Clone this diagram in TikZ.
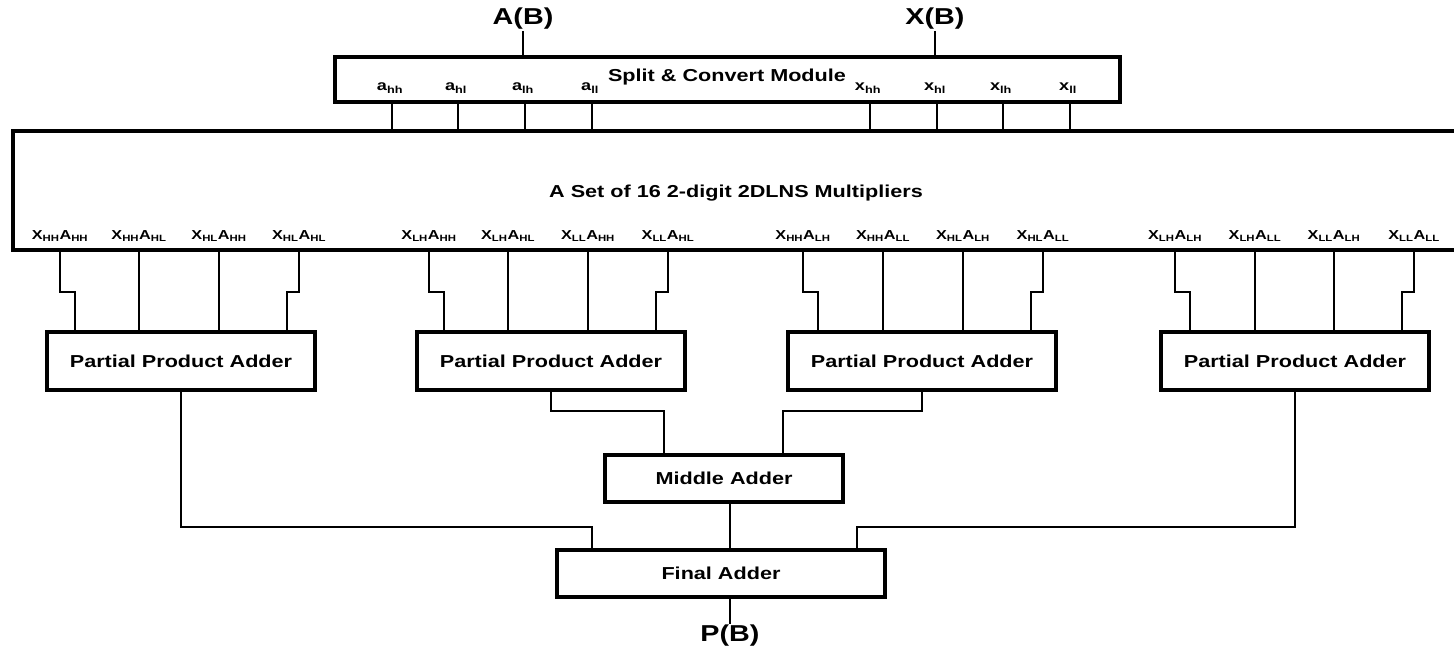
\documentclass[tikz,border=0pt]{standalone}
\usepackage{fontspec}
\setmainfont[FakeStretch=1.25]{Liberation Sans}
\begin{document}
\begin{tikzpicture}[x=1pt,y=-1pt,
  blk/.style={draw, line width=4.5pt, inner sep=0pt, font=\bfseries\fontsize{17.3}{20}\selectfont},
  wire/.style={line width=2.2pt},
  io/.style={font=\bfseries\fontsize{23}{26}\selectfont, inner sep=1pt},
  slab/.style={font=\bfseries\fontsize{14.5}{17}\selectfont, inner sep=0pt},
  mlab/.style={font=\bfseries\fontsize{13}{15}\selectfont, inner sep=0pt}]
\clip (0,0) rectangle (1454,648);
% boxes
\node[blk, minimum width=785pt, minimum height=45pt] (split) at (727.5,79.5) {};
\node[font=\bfseries\fontsize{17.3}{20}\selectfont, inner sep=0pt] (splitlabel) at (727,77) {Split \& Convert Module};
\node[blk, minimum width=1457pt, minimum height=119pt] (mult) at (741.5,190.5) {};
\node[font=\bfseries\fontsize{17.3}{20}\selectfont, inner sep=0pt] (multlabel) at (736,193) {A Set of 16 2-digit 2DLNS Multipliers};
\node[blk, minimum width=268pt, minimum height=58pt] (p1) at (181,361) {Partial Product Adder};
\node[blk, minimum width=268pt, minimum height=58pt] (p2) at (551,361) {Partial Product Adder};
\node[blk, minimum width=268pt, minimum height=58pt] (p3) at (922,361) {Partial Product Adder};
\node[blk, minimum width=268pt, minimum height=58pt] (p4) at (1295,361) {Partial Product Adder};
\node[blk, minimum width=238pt, minimum height=47pt] (mid) at (724,478.5) {Middle Adder};
\node[blk, minimum width=328pt, minimum height=47pt] (fin) at (721,573.5) {Final Adder};
% inputs / output
\node[io] (AB) at (523,19) {A(B)};
\node[io] (XB) at (935,19) {X(B)};
\node[io] (PB) at (730,636) {P(B)};
\draw[wire] (AB.south) -- (AB.south |- split.north);
\draw[wire] (XB.south) -- (XB.south |- split.north);
% split outputs
\foreach \x/\c/\s [count=\i] in {392/a/hh,458/a/hl,525/a/lh,592/a/ll,870/x/hh,937/x/hl,1003/x/lh,1070/x/ll}{
  \coordinate (sp\i) at (\x,0);
  \node[slab] (sl\i) at (\x-2,88) {\c\textsubscript{\s}};
  \draw[wire] (split.south -| sp\i) -- (mult.north -| sp\i);
}
% multiplier outputs
\foreach \x/\u/\v [count=\i] in {60/HH/HH,139/HH/HL,219/HL/HH,299/HL/HL,
  429/LH/HH,508/LH/HL,588/LL/HH,668/LL/HL,
  803/HH/LH,883/HH/LL,963/HL/LH,1043/HL/LL,
  1175/LH/LH,1255/LH/LL,1334/LL/LH,1414/LL/LL}{
  \coordinate (mo\i) at (\x,250);
  \node[mlab] (ml\i) at (\x,236) {X\textsubscript{\u}A\textsubscript{\v}};
}
\foreach \g in {1,2,3,4}{
  \pgfmathtruncatemacro{\a}{4*\g-3}
  \pgfmathtruncatemacro{\b}{4*\g-2}
  \pgfmathtruncatemacro{\c}{4*\g-1}
  \pgfmathtruncatemacro{\d}{4*\g}
  \draw[wire] (mult.south -| mo\a) -- ++(0,40) -| ([xshift=15pt]mo\a |- p\g.north);
  \draw[wire] (mult.south -| mo\b) -- (mo\b |- p\g.north);
  \draw[wire] (mult.south -| mo\c) -- (mo\c |- p\g.north);
  \draw[wire] (mult.south -| mo\d) -- ++(0,40) -| ([xshift=-12pt]mo\d |- p\g.north);
}
% adder tree
\coordinate (m2) at (664,0);
\coordinate (m3) at (783,0);
\coordinate (f1) at (592,0);
\coordinate (f4) at (857,0);
\coordinate (fo) at (730,0);
\draw[wire] (p2.south) -- ++(0,19) -| (m2 |- mid.north);
\draw[wire] (p3.south) -- ++(0,19) -| (m3 |- mid.north);
\draw[wire] (p1.south) -- ++(0,135) -| (f1 |- fin.north);
\draw[wire] (p4.south) -- ++(0,135) -| (f4 |- fin.north);
\draw[wire] (mid.south -| fo) -- (fin.north -| fo);
\draw[wire] (fin.south -| PB) -- (PB.north);
\end{tikzpicture}
\end{document}
